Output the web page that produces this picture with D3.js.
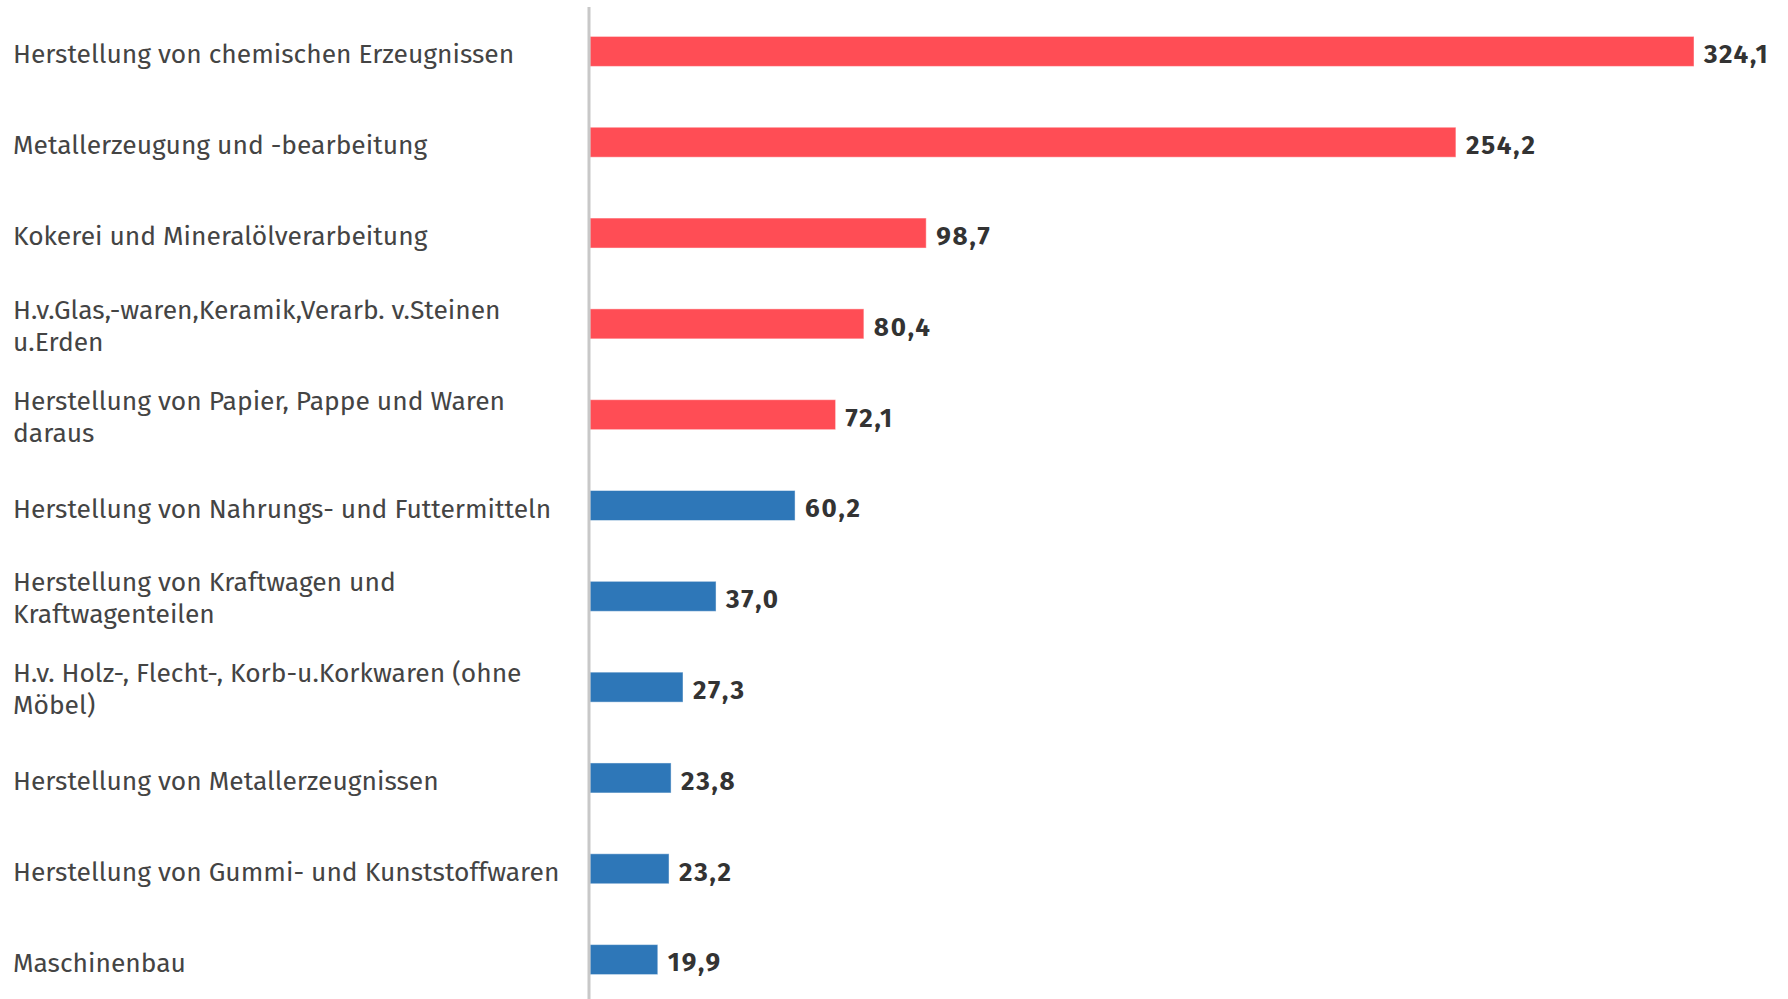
<!DOCTYPE html>
<html>
<head>
<meta charset="utf-8">
<script src="https://cdn.jsdelivr.net/npm/d3@7"></script>
<style>
  html, body { margin: 0; padding: 0; background: #fff; }
  svg { display: block; }
</style>
</head>
<body>
<svg id="chart" width="1788" height="999"></svg>
<script>
// Industry sectors (label lines separated by "\n")
const categories = [
  "Herstellung von chemischen Erzeugnissen",
  "Metallerzeugung und -bearbeitung",
  "Kokerei und Mineralölverarbeitung",
  "H.v.Glas,-waren,Keramik,Verarb. v.Steinen\nu.Erden",
  "Herstellung von Papier, Pappe und Waren\ndaraus",
  "Herstellung von Nahrungs- und Futtermitteln",
  "Herstellung von Kraftwagen und\nKraftwagenteilen",
  "H.v. Holz-, Flecht-, Korb-u.Korkwaren (ohne\nMöbel)",
  "Herstellung von Metallerzeugnissen",
  "Herstellung von Gummi- und Kunststoffwaren",
  "Maschinenbau"
];
const values = [324.1, 254.2, 98.7, 80.4, 72.1, 60.2, 37.0, 27.3, 23.8, 23.2, 19.9];
// Sector group: "high" for the energy-intensive sectors highlighted in red
const groups = ["high", "high", "high", "high", "high", "low", "low", "low", "low", "low", "low"];

const colors = { high: "#ff4d55", low: "#2e77b8" };
const fontFamily = "'Fira Sans', 'Noto Sans', Roboto, sans-serif";

const svg = d3.select("#chart");
const W = 1788, H = 999;
const x0 = 590;

const data = categories.map((c, i) => ({ cat: c, value: values[i], group: groups[i] }));

const x = d3.scaleLinear()
  .domain([0, 324.1])
  .range([x0, 1694]);

const y = d3.scaleBand()
  .domain(categories)
  .range([6, 1005])
  .paddingInner(0.67)
  .paddingOuter(0.335);

const fmt = v => d3.format(".1f")(v).replace(".", ",");

// Bars
svg.append("g")
  .selectAll("rect")
  .data(data)
  .join("rect")
  .attr("x", x(0))
  .attr("y", d => y(d.cat))
  .attr("width", d => x(d.value) - x(0))
  .attr("height", y.bandwidth())
  .attr("fill", d => colors[d.group])
  .attr("stroke", "rgba(255,255,255,0.45)")
  .attr("stroke-width", 1);

// Baseline
svg.append("line")
  .attr("x1", 589).attr("x2", 589)
  .attr("y1", 7).attr("y2", H)
  .attr("stroke", "#c8c8c8")
  .attr("stroke-width", 3);

// Value labels
svg.append("g")
  .selectAll("text")
  .data(data)
  .join("text")
  .attr("x", d => x(d.value) + 10)
  .attr("y", d => y(d.cat) + y.bandwidth() / 2 + 5)
  .attr("dominant-baseline", "middle")
  .attr("font-family", fontFamily)
  .attr("font-weight", "bold")
  .attr("font-size", 26)
  .attr("letter-spacing", 1.8)
  .attr("fill", "#333")
  .text(d => fmt(d.value));

// Category labels
const lineH = 32;
const lab = svg.append("g")
  .selectAll("text")
  .data(data)
  .join("text")
  .attr("font-family", fontFamily)
  .attr("font-size", 26.4)
  .attr("fill", "#444")
  .attr("dominant-baseline", "middle");

lab.each(function (d) {
  const lines = d.cat.split("\n");
  const cy = y(d.cat) + y.bandwidth() / 2 + (lines.length > 1 ? 4 : 5);
  const start = cy - (lines.length - 1) * lineH / 2;
  d3.select(this).selectAll("tspan")
    .data(lines)
    .join("tspan")
    .attr("x", 13)
    .attr("y", (l, i) => start + i * lineH)
    .text(l => l);
});
</script>
</body>
</html>
